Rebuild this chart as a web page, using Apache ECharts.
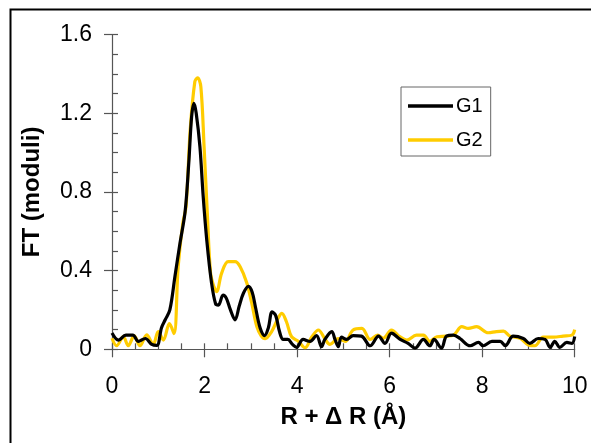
<!DOCTYPE html>
<html>
<head>
<meta charset="utf-8">
<script src="https://cdn.jsdelivr.net/npm/echarts@6/dist/echarts.min.js"></script>
<style>
html,body{margin:0;padding:0;background:#fff;}
#c{width:591px;height:443px;}
</style>
</head>
<body>
<div id="c"></div>
<script>
// R + ΔR (Å) values and FT modulus values
var g1R  = [0.00,0.14,0.30,0.45,0.57,0.72,0.86,0.97,1.07,1.15,1.25,1.36,1.47,1.58,1.66,1.72,1.77,1.82,1.90,1.97,2.05,2.15,2.24,2.30,2.40,2.47,2.56,2.66,2.75,2.84,2.95,3.03,3.10,3.20,3.30,3.38,3.46,3.54,3.62,3.70,3.80,3.90,3.99,4.13,4.28,4.42,4.53,4.60,4.75,4.82,4.89,4.96,5.07,5.21,5.39,5.58,5.76,5.90,6.04,6.22,6.40,6.55,6.73,6.87,6.96,7.12,7.23,7.38,7.52,7.74,7.92,8.02,8.21,8.39,8.50,8.67,8.89,9.03,9.21,9.36,9.47,9.57,9.68,9.83,9.94,10.00];
var g1FT = [0.083,0.047,0.072,0.072,0.040,0.055,0.025,0.020,0.110,0.150,0.200,0.370,0.540,0.700,0.950,1.180,1.250,1.200,1.030,0.780,0.550,0.340,0.230,0.225,0.275,0.260,0.200,0.150,0.220,0.285,0.320,0.290,0.215,0.110,0.070,0.110,0.190,0.170,0.090,0.050,0.050,0.025,0.010,0.050,0.040,0.070,0.013,0.050,0.090,0.050,0.013,0.062,0.050,0.070,0.067,0.018,0.067,0.030,0.082,0.052,0.030,0.006,0.050,0.018,0.050,0.006,0.067,0.072,0.055,0.018,0.035,0.018,0.040,0.040,0.018,0.067,0.055,0.030,0.055,0.050,0.010,0.040,0.010,0.035,0.030,0.065];

var g2R  = [0.00,0.10,0.245,0.35,0.48,0.605,0.75,0.89,1.00,1.11,1.24,1.34,1.43,1.53,1.60,1.69,1.79,1.85,1.92,1.99,2.06,2.13,2.20,2.26,2.37,2.51,2.66,2.77,2.91,3.02,3.13,3.22,3.31,3.45,3.59,3.67,3.77,3.88,4.03,4.17,4.32,4.46,4.60,4.71,4.89,5.04,5.21,5.40,5.58,5.74,5.86,6.04,6.22,6.37,6.58,6.73,6.87,7.02,7.23,7.38,7.56,7.70,7.88,8.13,8.31,8.46,8.60,8.82,9.00,9.14,9.32,9.54,9.75,9.94,10.00];
var g2FT = [0.056,0.018,0.064,0.018,0.068,0.018,0.073,0.025,0.090,0.047,0.130,0.080,0.420,0.640,0.725,1.115,1.360,1.380,1.335,1.030,0.690,0.387,0.320,0.293,0.387,0.446,0.446,0.420,0.340,0.234,0.115,0.070,0.054,0.090,0.158,0.183,0.140,0.064,0.040,0.008,0.064,0.098,0.054,0.025,0.054,0.040,0.098,0.106,0.050,0.072,0.056,0.098,0.064,0.047,0.072,0.072,0.040,0.064,0.067,0.072,0.115,0.106,0.115,0.084,0.090,0.092,0.067,0.056,0.022,0.018,0.062,0.062,0.067,0.072,0.100];

var seriesNames = ['G1','G2'];
var seriesColors = ['#000000','#FFCC00'];
var xTickLabels = ['0','2','4','6','8','10'];
var yTickLabels = ['0','0.4','0.8','1.2','1.6'];

function pairs(xs, ys){ return xs.map(function(x,i){ return [x, ys[i]]; }); }

var FONT = 'Liberation Sans, Arial, Helvetica, sans-serif';
var axisCol = '#555';

var chart = echarts.init(document.getElementById('c'), null, {renderer:'canvas'});
chart.setOption({
  animation:false,
  backgroundColor:'#fff',
  graphic:[{
    type:'rect', left:8, top:7, z:-1,
    shape:{x:0,y:0,width:700,height:500},
    style:{fill:null, stroke:'#000', lineWidth:2}
  }],
  grid:{left:112, right:16.3, top:34.5, bottom:93.7},
  legend:{
    left:401, top:87, orient:'vertical',
    data:[{name:'G1', icon:'rect'},{name:'G2', icon:'rect'}],
    itemWidth:45, itemHeight:3.5, itemGap:14,
    padding:[9,8,6,7],
    borderColor:'#666', borderWidth:1,
    textStyle:{fontFamily:FONT, fontSize:20, color:'#000', padding:[0,0,0,-2]}
  },
  xAxis:[{
    type:'value', min:0, max:10, interval:2,
    axisLine:{show:true, onZero:false, lineStyle:{color:axisCol, width:1.2}},
    axisTick:{show:true, inside:false, length:8, lineStyle:{color:axisCol, width:1.2}},
    axisLabel:{fontFamily:FONT, fontSize:23, color:'#000', margin:26,
      formatter:function(v){ var i = Math.round(v/2); return xTickLabels[i]!==undefined?xTickLabels[i]:''; }},
    splitLine:{show:false},
    name:'R + \u0394 R (\u00C5)', nameLocation:'middle', nameGap:56,
    nameTextStyle:{fontFamily:FONT, fontSize:24, fontWeight:'bold', color:'#000'}
  },{
    type:'value', min:0, max:10, interval:0.5, position:'bottom',
    axisLine:{show:false, onZero:false},
    axisTick:{show:true, inside:true, length:6, lineStyle:{color:axisCol, width:1.2}},
    axisLabel:{show:false}, splitLine:{show:false}
  }],
  yAxis:[{
    type:'value', min:0, max:1.6, interval:0.4,
    axisLine:{show:true, onZero:false, lineStyle:{color:axisCol, width:1.2}},
    axisTick:{show:true, inside:false, length:8, lineStyle:{color:axisCol, width:1.2}},
    axisLabel:{fontFamily:FONT, fontSize:23, color:'#000', margin:20,
      formatter:function(v){ var i = Math.round(v/0.4); return yTickLabels[i]!==undefined?yTickLabels[i]:''; }},
    splitLine:{show:false},
    name:'FT (moduli)', nameLocation:'middle', nameGap:68,
    nameTextStyle:{fontFamily:FONT, fontSize:24, fontWeight:'bold', color:'#000'}
  },{
    type:'value', min:0, max:1.6, interval:0.1, position:'left',
    axisLine:{show:false, onZero:false},
    axisTick:{show:true, inside:true, length:6, lineStyle:{color:axisCol, width:1.2}},
    axisLabel:{show:false}, splitLine:{show:false}
  }],
  series:[{
    name:seriesNames[0], type:'line', xAxisIndex:0, yAxisIndex:0,
    data:pairs(g1R, g1FT), showSymbol:false, smooth:0.35,
    lineStyle:{color:seriesColors[0], width:3.2}, itemStyle:{color:seriesColors[0]}, z:3
  },{
    name:seriesNames[1], type:'line', xAxisIndex:0, yAxisIndex:0,
    data:pairs(g2R, g2FT), showSymbol:false, smooth:0.35,
    lineStyle:{color:seriesColors[1], width:3.2}, itemStyle:{color:seriesColors[1]}, z:2
  }]
});
</script>
</body>
</html>
